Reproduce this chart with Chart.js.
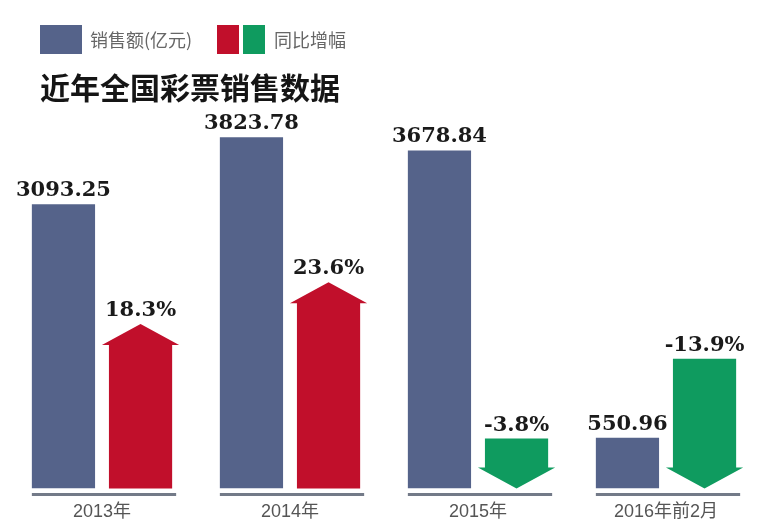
<!DOCTYPE html>
<html lang="zh">
<head>
<meta charset="utf-8">
<title>近年全国彩票销售数据</title>
<script src="https://cdn.jsdelivr.net/npm/chart.js@4.4.1/dist/chart.umd.min.js"></script>
<style>
  html, body { margin:0; padding:0; background:#fff; }
  canvas { display:block; }
</style>
</head>
<body>
<canvas id="c" width="760" height="528"></canvas>
<script>
/* ====== データ ====== */
const years  = ['2013年', '2014年', '2015年', '2016年前2月'];
const sales  = [3093.25, 3823.78, 3678.84, 550.96];   // 销售额（亿元）
const growth = [18.3, 23.6, -3.8, -13.9];             // 同比增幅（%）

/* ====== 色 ====== */
const BLUE = '#55638a', RED = '#c10f2b', GREEN = '#0f9b5f', AXIS = '#737a88';
const G_MIN = -2.5;   // 矢印の根元（%軸の下端）

/* ====== 矢印・数値ラベル・軸線 ====== */
const arrowPlugin = {
  id: 'arrows',
  afterDatasetsDraw(chart) {
    const ctx = chart.ctx;
    const blue = chart.getDatasetMeta(0).data;
    const arr  = chart.getDatasetMeta(1).data;
    const bottom = chart.chartArea.bottom;
    ctx.save();

    // 各グループの下の灰色線
    ctx.strokeStyle = AXIS; ctx.lineWidth = 3;
    blue.forEach((b, i) => {
      const a = arr[i];
      ctx.beginPath();
      ctx.moveTo(b.x - b.width/2, bottom + 6);
      ctx.lineTo(a.x + a.width/2 + 4, bottom + 6);
      ctx.stroke();
    });

    // 矢印
    const HEAD = 21, WING = 7;
    arr.forEach((el, i) => {
      const up = growth[i] >= 0;
      const l = el.x - el.width/2, r = el.x + el.width/2;
      const top = el.y, base = el.base;
      ctx.fillStyle = up ? RED : GREEN;
      ctx.beginPath();
      if (up) {
        ctx.moveTo(l, base); ctx.lineTo(l, top + HEAD); ctx.lineTo(l - WING, top + HEAD);
        ctx.lineTo(el.x, top);
        ctx.lineTo(r + WING, top + HEAD); ctx.lineTo(r, top + HEAD); ctx.lineTo(r, base);
      } else {
        ctx.moveTo(l, top); ctx.lineTo(l, base - HEAD); ctx.lineTo(l - WING, base - HEAD);
        ctx.lineTo(el.x, base);
        ctx.lineTo(r + WING, base - HEAD); ctx.lineTo(r, base - HEAD); ctx.lineTo(r, top);
      }
      ctx.closePath(); ctx.fill();
    });

    // 数値ラベル
    ctx.fillStyle = '#1a1a1a';
    ctx.font = 'bold 21px "DejaVu Serif"';
    ctx.textAlign = 'center'; ctx.textBaseline = 'alphabetic';
    blue.forEach((el, i) => ctx.fillText(sales[i].toFixed(2), el.x, el.y - 8));
    arr.forEach((el, i) => ctx.fillText(growth[i].toFixed(1) + '%', el.x, el.y - 8));
    ctx.restore();
  }
};

/* ====== 凡例・タイトル ====== */
const decorPlugin = {
  id: 'decor',
  afterDraw(chart) {
    const ctx = chart.ctx;
    ctx.save();
    ctx.fillStyle = BLUE;  ctx.fillRect(40, 25, 42, 29);
    ctx.fillStyle = RED;   ctx.fillRect(217, 25, 22, 29);
    ctx.fillStyle = GREEN; ctx.fillRect(243, 25, 22, 29);
    ctx.fillStyle = '#666';
    ctx.font = '18px "Noto Sans CJK SC"';
    ctx.textBaseline = 'middle'; ctx.textAlign = 'left';
    ctx.fillText('销售额(亿元)', 90, 40);
    ctx.fillText('同比增幅', 274, 40);
    ctx.fillStyle = '#151515';
    ctx.font = 'bold 30px "Noto Sans CJK SC"';
    ctx.fillText('近年全国彩票销售数据', 40, 88);
    ctx.restore();
  }
};

new Chart(document.getElementById('c'), {
  type: 'bar',
  data: {
    labels: years,
    datasets: [
      { label: '销售额(亿元)', data: sales, yAxisID: 'y',
        backgroundColor: BLUE, categoryPercentage: 0.82, barPercentage: 0.82 },
      { label: '同比增幅', data: growth.map(v => [G_MIN, Math.abs(v)]), yAxisID: 'y2',
        backgroundColor: 'rgba(0,0,0,0)', categoryPercentage: 0.82, barPercentage: 0.82 }
    ]
  },
  options: {
    responsive: false,
    animation: false,
    layout: { padding: { top: 121, left: 8, right: 0, bottom: -8 } },
    scales: {
      x: {
        grid: { display: false, drawTicks: false },
        border: { display: false },
        ticks: { color: '#555', padding: 13, font: { size: 18, family: '"Liberation Sans", "Noto Sans CJK SC"' } }
      },
      y:  { display: false, min: 0, max: 4000 },
      y2: { display: false, min: G_MIN, max: 44 }
    },
    plugins: { legend: { display: false }, tooltip: { enabled: false } }
  },
  plugins: [arrowPlugin, decorPlugin]
});
</script>
</body>
</html>
